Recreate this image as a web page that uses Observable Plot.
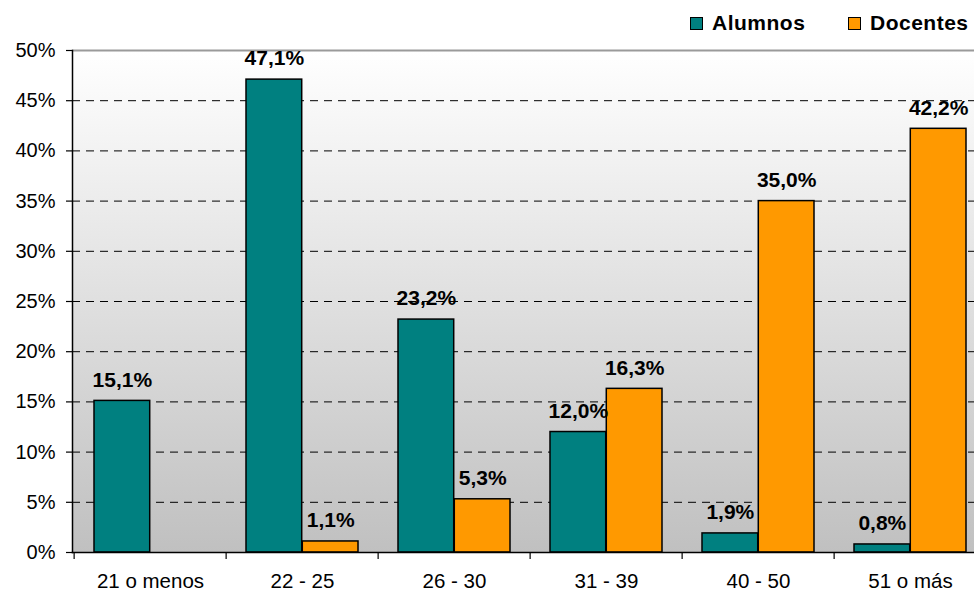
<!DOCTYPE html>
<html>
<head>
<meta charset="utf-8">
<script src="https://cdn.jsdelivr.net/npm/d3@7"></script>
<script src="https://cdn.jsdelivr.net/npm/@observablehq/plot@0.6"></script>
<style>
html, body { margin: 0; padding: 0; background: #fff; overflow: hidden; width: 974px; height: 593px; }
#wrap { position: relative; width: 974px; height: 593px; overflow: hidden; }
#legend { position: absolute; top: 0; left: 0; width: 974px; height: 45px; font-family: Arial, "Liberation Sans", sans-serif; font-weight: bold; font-size: 21px; letter-spacing: 0.5px; color: #000; }
.item { position: absolute; top: 11px; display: flex; align-items: center; height: 24px; }
.sw { width: 13px; height: 13px; box-sizing: border-box; border: 1.5px solid #000; margin-right: 9px; }
#chart { position: absolute; top: 0; left: 0; width: 988px; }
#chart svg { max-width: none !important; }
</style>
</head>
<body>
<div id="wrap">
  <div id="chart"></div>
  <div id="legend"></div>
</div>
<script>
const categories = ["21 o menos", "22 - 25", "26 - 30", "31 - 39", "40 - 50", "51 o más"];
const seriesNames = ["Alumnos", "Docentes"];
const alumnos = [15.1, 47.1, 23.2, 12.0, 1.9, 0.8];
const docentes = [null, 1.1, 5.3, 16.3, 35.0, 42.2];
const yTicks = [0, 5, 10, 15, 20, 25, 30, 35, 40, 45, 50];
const colors = ["#008080", "#FF9900"];

const W = 988, H = 593, ML = 72, MR = 0, MT = 50, MB = 41;
const PAD_IN = 0.263, PAD_OUT = 0.13;
const step = (W - ML - MR) / (categories.length - PAD_IN + 2 * PAD_OUT);
const bw = step * (1 - PAD_IN);
const half = bw / 2;

const rowsA = categories.map((c, i) => ({cat: c, serie: seriesNames[0], value: alumnos[i]})).filter(d => d.value != null);
const rowsD = categories.map((c, i) => ({cat: c, serie: seriesNames[1], value: docentes[i]})).filter(d => d.value != null);
const fmt = d => d.value.toFixed(1).replace(".", ",") + "%";

const FONT = "Arial, 'Liberation Sans', Helvetica, sans-serif";

const defs = () => {
  const g = d3.create("svg:defs");
  const lg = g.append("linearGradient").attr("id", "bg").attr("x1", 0).attr("y1", 0).attr("x2", 0).attr("y2", 1);
  lg.append("stop").attr("offset", "0%").attr("stop-color", "#ffffff");
  lg.append("stop").attr("offset", "100%").attr("stop-color", "#c0c0c0");
  return g.node();
};

const plot = Plot.plot({
  width: W, height: H,
  marginLeft: ML, marginRight: MR, marginTop: MT, marginBottom: MB,
  style: {fontFamily: FONT, fontSize: "20px", background: "transparent", overflow: "visible", maxWidth: "none"},
  x: {type: "band", domain: categories, paddingInner: PAD_IN, paddingOuter: PAD_OUT, label: null, axis: null},
  y: {domain: [0, 50], label: null, axis: null},
  marks: [
    defs,
    Plot.frame({fill: "url(#bg)", stroke: null}),
    Plot.gridY(yTicks.filter(t => t > 0 && t < 50), {stroke: "#000", strokeOpacity: 1, strokeWidth: 1, strokeDasharray: "8,6"}),
    Plot.ruleY([50], {stroke: "#9a9a9a", strokeWidth: 2}),
    Plot.barY(rowsA, {x: "cat", y: "value", fill: colors[0], stroke: "#000", strokeWidth: 1.5, insetRight: half}),
    Plot.barY(rowsD, {x: "cat", y: "value", fill: colors[1], stroke: "#000", strokeWidth: 1.5, insetLeft: half}),
    Plot.text(rowsA, {x: "cat", y: "value", text: fmt, dx: -half / 2, dy: -21, fontWeight: "bold", fontSize: 21, fill: "#000", textAnchor: "middle", lineAnchor: "middle"}),
    Plot.text(rowsD, {x: "cat", y: "value", text: fmt, dx: half / 2, dy: -21, fontWeight: "bold", fontSize: 21, fill: "#000", textAnchor: "middle", lineAnchor: "middle"}),
    Plot.axisY({ticks: yTicks, tickFormat: d => d + "%", tickSize: 6, tickPadding: 11, fontSize: 20, stroke: "#000", strokeWidth: 1.2, label: null}),
    Plot.axisX({ticks: categories, tickSize: 7, tickFormat: () => "", dx: -step / 2, stroke: "#000", strokeWidth: 1.2, label: null}),
    Plot.axisX({ticks: categories, tickSize: 0, tickPadding: 21, fontSize: 20.5, label: null}),
    Plot.frame({anchor: "left", stroke: "#000", strokeWidth: 1.5}),
    Plot.frame({anchor: "bottom", stroke: "#000", strokeWidth: 1.5})
  ]
});
document.getElementById("chart").appendChild(plot);

const legend = d3.select("#legend");
const legendLeft = [690, 848];
seriesNames.forEach((s, i) => {
  const it = legend.append("div").attr("class", "item").style("left", legendLeft[i] + "px");
  it.append("div").attr("class", "sw").style("background", colors[i]);
  it.append("span").text(s);
});
</script>
</body>
</html>
